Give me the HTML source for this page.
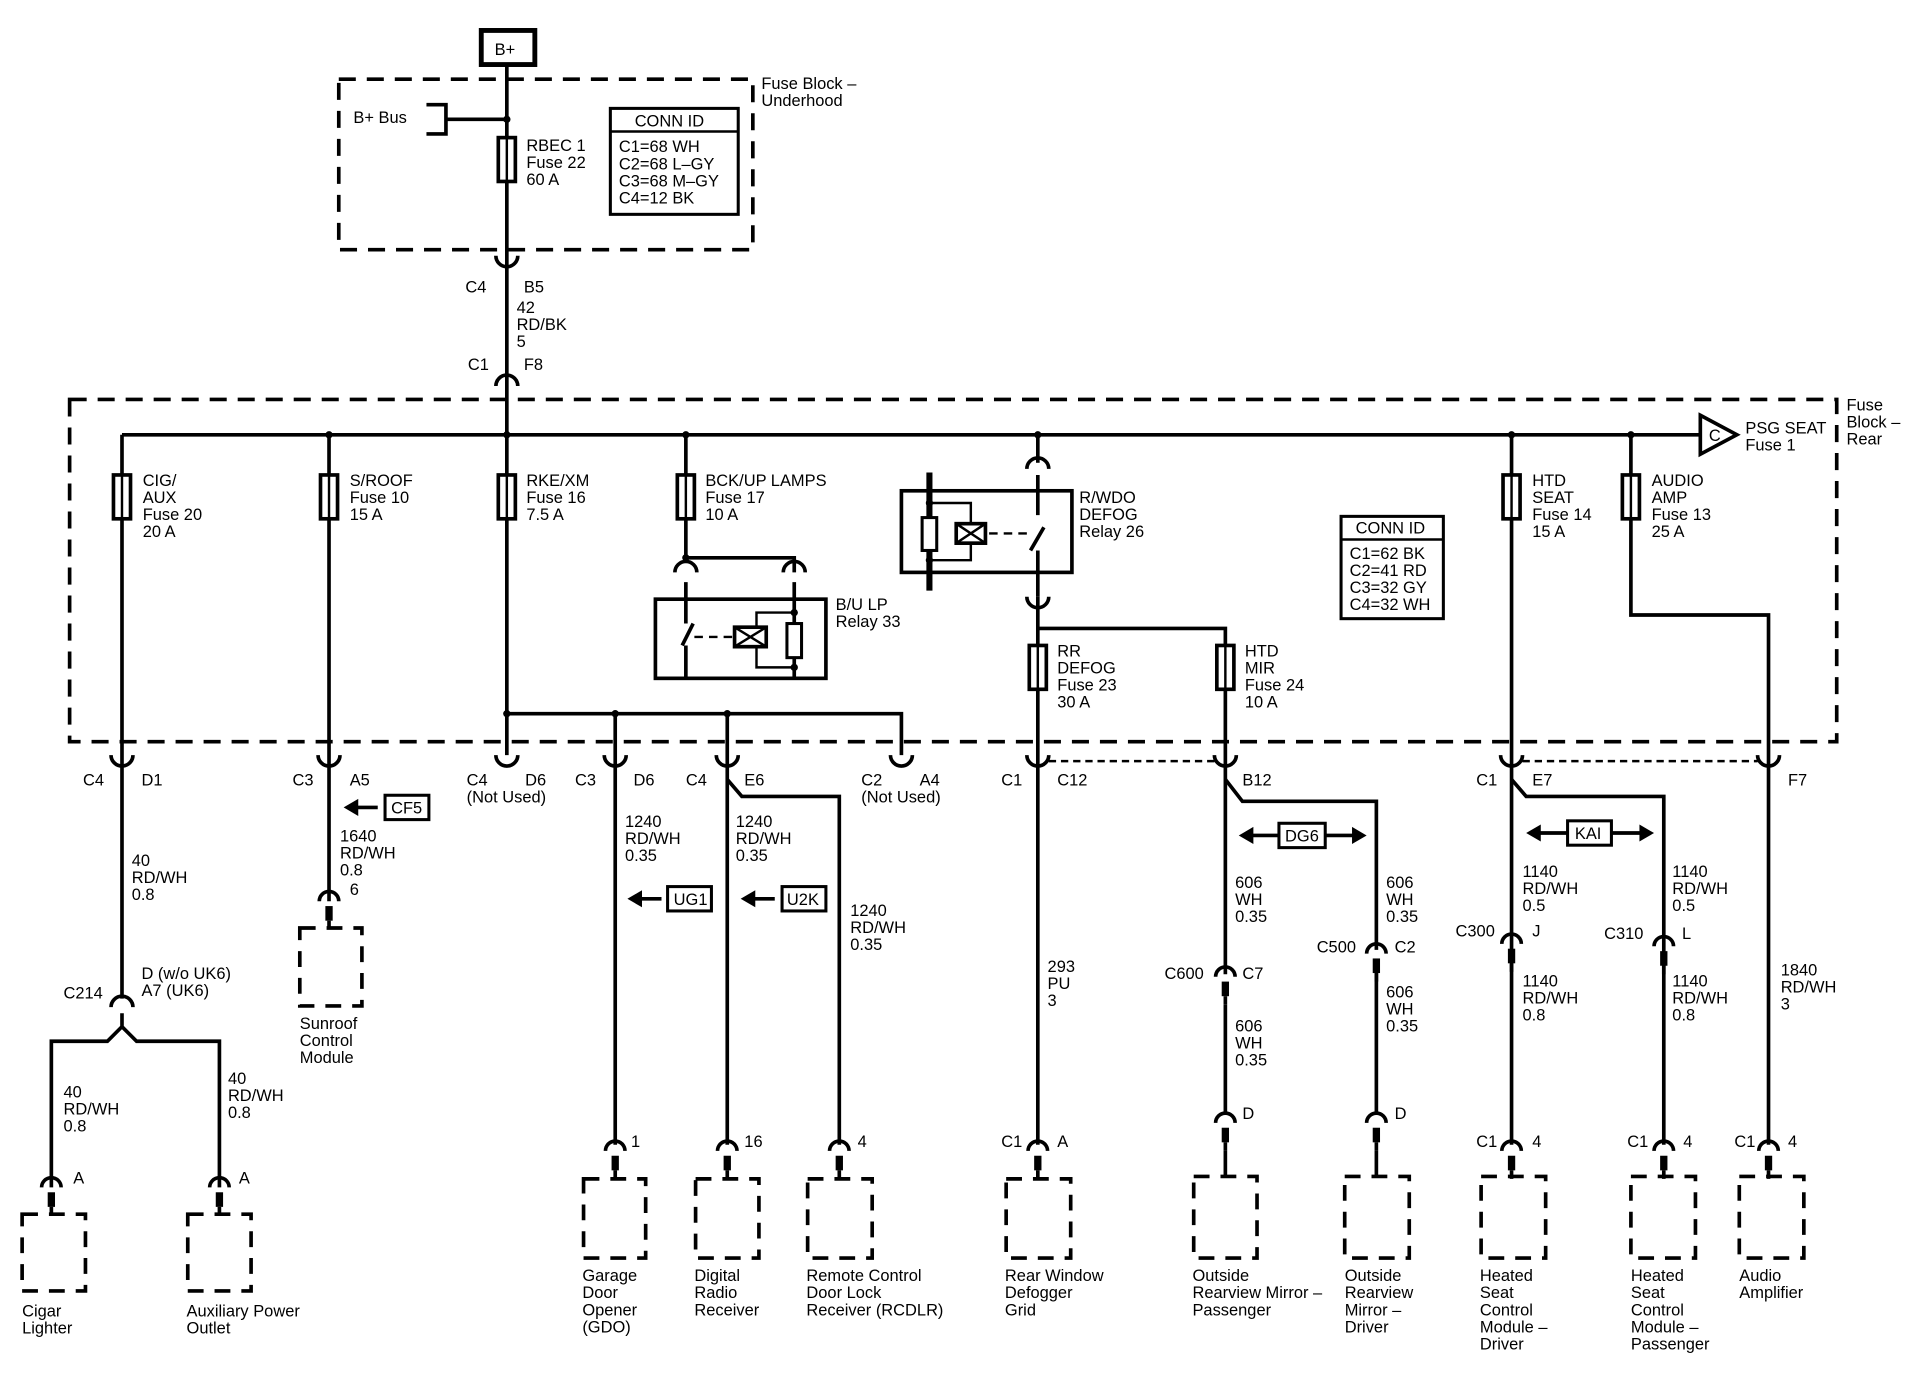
<!DOCTYPE html>
<html><head><meta charset="utf-8"><style>
html,body{margin:0;padding:0;background:#fff}
svg{display:block}
text{font-family:"Liberation Sans Narrow","Liberation Sans",sans-serif;font-size:13.5px;fill:#000}
.w{stroke:#000;stroke-width:3;fill:none}
.d{stroke:#000;stroke-width:3;fill:none;stroke-dasharray:14 9}
.dv{stroke:#000;stroke-width:3;fill:none;stroke-dasharray:13 9}
.t{stroke:#000;stroke-width:2;fill:none}
</style></head><body>
<svg width="1910" height="1392" viewBox="0 0 1568 1143" xmlns="http://www.w3.org/2000/svg">
<defs>
<g id="fuse"><rect x="-7" y="0" width="14" height="36" fill="#fff" stroke="#000" stroke-width="3"/><line x1="0" y1="0" x2="0" y2="36" stroke="#000" stroke-width="2"/></g>
<path id="cu" d="M-9,-5 A9,9 0 0 0 9,-5" class="w"/>
<path id="ca" d="M-9,5 A9,9 0 0 1 9,5" class="w"/>
<g id="stub"><path d="M-8,5 A8,8 0 0 1 8,5" class="w"/><rect x="-3" y="9" width="6" height="12" fill="#000"/><line x1="0" y1="21" x2="0" y2="28" class="w"/></g>
</defs>

<!-- top -->
<rect x="395" y="25" width="44" height="28" fill="#fff" stroke="#000" stroke-width="4"/>
<text x="406" y="45">B+</text>
<line x1="416" y1="53" x2="416" y2="356" class="w"/>
<rect x="278" y="65" width="340" height="140" class="d"/>
<text x="290" y="101">B+ Bus</text>
<path d="M350,86 H366 V110 H350 M366,98 H416" class="w"/>
<circle cx="416" cy="98" r="3"/>
<use href="#fuse" x="416" y="113"/>
<text x="432" y="124">RBEC 1</text><text x="432" y="138">Fuse 22</text><text x="432" y="152">60 A</text>
<rect x="501" y="89" width="105" height="87" fill="#fff" stroke="#000" stroke-width="2.5"/>
<line x1="501" y1="108" x2="606" y2="108" class="t"/>
<text x="521" y="104">CONN ID</text>
<text x="508" y="125">C1=68 WH</text><text x="508" y="139">C2=68 L–GY</text><text x="508" y="153">C3=68 M–GY</text><text x="508" y="167">C4=12 BK</text>
<text x="625" y="73">Fuse Block –</text><text x="625" y="87">Underhood</text>
<use href="#cu" x="416" y="215"/>
<text x="382" y="240">C4</text><text x="430" y="240">B5</text>
<text x="424" y="257">42</text><text x="424" y="271">RD/BK</text><text x="424" y="285">5</text>
<text x="384" y="304">C1</text><text x="430" y="304">F8</text>
<use href="#ca" x="416" y="312"/>

<!-- rear fuse block -->
<rect x="57" y="328" width="1451" height="281" class="d"/>
<text x="1516" y="337">Fuse</text><text x="1516" y="351">Block –</text><text x="1516" y="365">Rear</text>
<line x1="100" y1="357" x2="1396" y2="357" class="w"/>
<polygon points="1396,341 1426,357 1396,373" fill="#fff" stroke="#000" stroke-width="3"/>
<text x="1403" y="362">C</text>
<text x="1433" y="356">PSG SEAT</text><text x="1433" y="370">Fuse 1</text>
<g><circle cx="270" cy="357" r="3"/><circle cx="416" cy="357" r="3"/><circle cx="563" cy="357" r="3"/><circle cx="852" cy="357" r="3"/><circle cx="1241" cy="357" r="3"/><circle cx="1339" cy="357" r="3"/></g>

<!-- x=100 -->
<line x1="100" y1="357" x2="100" y2="820" class="w"/>
<use href="#fuse" x="100" y="390"/>
<text x="117" y="399">CIG/</text><text x="117" y="413">AUX</text><text x="117" y="427">Fuse 20</text><text x="117" y="441">20 A</text>
<!-- x=270 -->
<line x1="270" y1="357" x2="270" y2="740" class="w"/>
<use href="#fuse" x="270" y="390"/>
<text x="287" y="399">S/ROOF</text><text x="287" y="413">Fuse 10</text><text x="287" y="427">15 A</text>
<!-- x=416 -->
<line x1="416" y1="357" x2="416" y2="620" class="w"/>
<use href="#fuse" x="416" y="390"/>
<text x="432" y="399">RKE/XM</text><text x="432" y="413">Fuse 16</text><text x="432" y="427">7.5 A</text>
<path d="M416,586 H740 V620 M505,586 V940 M597,586 V940" class="w"/>
<circle cx="416" cy="586" r="3"/><circle cx="505" cy="586" r="3"/><circle cx="597" cy="586" r="3"/>
<!-- BCK/UP -->
<line x1="563" y1="357" x2="563" y2="458" class="w"/>
<use href="#fuse" x="563" y="390"/>
<text x="579" y="399">BCK/UP LAMPS</text><text x="579" y="413">Fuse 17</text><text x="579" y="427">10 A</text>
<path d="M563,458 H652 V470" class="w"/><circle cx="563" cy="458" r="3"/>
<use href="#ca" x="563" y="465"/><use href="#ca" x="652" y="465"/>
<rect x="538" y="492" width="140" height="65" fill="none" stroke="#000" stroke-width="3"/>
<path d="M563,478 V512 M569,512 L560,530 M563,530 V557 M652,478 V557" class="w"/>
<path d="M570,523 H603" class="t" stroke-dasharray="7 5"/>
<rect x="603" y="515" width="26" height="16" fill="#fff" stroke="#000" stroke-width="3"/>
<path d="M603,515 L629,531 M629,515 L603,531" class="t"/>
<path d="M621,515 V503 H652 M621,531 V548 H652" class="t"/>
<rect x="646" y="512" width="12" height="28" fill="#fff" stroke="#000" stroke-width="2.5"/>
<circle cx="652" cy="503" r="3"/><circle cx="652" cy="548" r="3"/>
<text x="686" y="501">B/U LP</text><text x="686" y="515">Relay 33</text>
<!-- R/WDO -->
<line x1="852" y1="357" x2="852" y2="380" class="w"/>
<use href="#ca" x="852" y="380"/>
<rect x="740" y="403" width="140" height="67" fill="none" stroke="#000" stroke-width="3"/>
<line x1="763" y1="388" x2="763" y2="485" stroke="#000" stroke-width="5"/>
<path d="M852,390 V423 M857,433 L846,452 M852,452 V490" class="w"/>
<path d="M812,438 H843" class="t" stroke-dasharray="7 5"/>
<path d="M763,413 H797 V460 H763" class="t"/>
<rect x="757" y="425" width="12" height="27" fill="#fff" stroke="#000" stroke-width="2.5"/>
<rect x="785" y="430" width="24" height="16" fill="#fff" stroke="#000" stroke-width="3"/>
<path d="M785,430 L809,446 M809,430 L785,446" class="t"/>
<circle cx="763" cy="413" r="3"/><circle cx="763" cy="460" r="3"/>
<text x="886" y="413">R/WDO</text><text x="886" y="427">DEFOG</text><text x="886" y="441">Relay 26</text>
<use href="#cu" x="852" y="495"/>
<path d="M852,490 V940 M852,516 H1006 V800" class="w"/>
<use href="#fuse" x="852" y="530"/><use href="#fuse" x="1006" y="530"/>
<text x="868" y="539">RR</text><text x="868" y="553">DEFOG</text><text x="868" y="567">Fuse 23</text><text x="868" y="581">30 A</text>
<text x="1022" y="539">HTD</text><text x="1022" y="553">MIR</text><text x="1022" y="567">Fuse 24</text><text x="1022" y="581">10 A</text>
<rect x="1101" y="424" width="84" height="84" fill="#fff" stroke="#000" stroke-width="2.5"/>
<line x1="1101" y1="443" x2="1185" y2="443" class="t"/>
<text x="1113" y="438">CONN ID</text>
<text x="1108" y="459">C1=62 BK</text><text x="1108" y="473">C2=41 RD</text><text x="1108" y="487">C3=32 GY</text><text x="1108" y="501">C4=32 WH</text>
<!-- HTD SEAT / AUDIO -->
<line x1="1241" y1="357" x2="1241" y2="940" class="w"/>
<use href="#fuse" x="1241" y="390"/>
<text x="1258" y="399">HTD</text><text x="1258" y="413">SEAT</text><text x="1258" y="427">Fuse 14</text><text x="1258" y="441">15 A</text>
<path d="M1339,357 V505 H1452 V940" class="w"/>
<use href="#fuse" x="1339" y="390"/>
<text x="1356" y="399">AUDIO</text><text x="1356" y="413">AMP</text><text x="1356" y="427">Fuse 13</text><text x="1356" y="441">25 A</text>

<!-- bottom connectors row -->
<g>
<use href="#cu" x="100" y="625"/><use href="#cu" x="270" y="625"/><use href="#cu" x="416" y="625"/><use href="#cu" x="505" y="625"/><use href="#cu" x="597" y="625"/><use href="#cu" x="740" y="625"/><use href="#cu" x="852" y="625"/><use href="#cu" x="1006" y="625"/><use href="#cu" x="1241" y="625"/><use href="#cu" x="1452" y="625"/>
</g>
<path d="M861,625 H997 M1250,625 H1443" class="t" stroke-dasharray="6 4"/>
<text x="68" y="645">C4</text><text x="116" y="645">D1</text>
<text x="240" y="645">C3</text><text x="287" y="645">A5</text>
<text x="383" y="645">C4</text><text x="431" y="645">D6</text><text x="383" y="659">(Not Used)</text>
<text x="472" y="645">C3</text><text x="520" y="645">D6</text>
<text x="563" y="645">C4</text><text x="611" y="645">E6</text>
<text x="707" y="645">C2</text><text x="755" y="645">A4</text><text x="707" y="659">(Not Used)</text>
<text x="822" y="645">C1</text><text x="868" y="645">C12</text>
<text x="1020" y="645">B12</text>
<text x="1212" y="645">C1</text><text x="1258" y="645">E7</text>
<text x="1468" y="645">F7</text>

<!-- x=100 bottom -->
<text x="108" y="711">40</text><text x="108" y="725">RD/WH</text><text x="108" y="739">0.8</text>
<use href="#ca" x="100" y="822"/>
<text x="52" y="820">C214</text><text x="116" y="804">D (w/o UK6)</text><text x="116" y="818">A7 (UK6)</text>
<path d="M100,832 V843 L88,855 H42 V975 M100,843 L112,855 H180 V975" class="w"/>
<text x="52" y="901">40</text><text x="52" y="915">RD/WH</text><text x="52" y="929">0.8</text>
<text x="187" y="890">40</text><text x="187" y="904">RD/WH</text><text x="187" y="918">0.8</text>
<use href="#stub" x="42" y="970"/><use href="#stub" x="180" y="970"/>
<text x="60" y="972">A</text><text x="196" y="972">A</text>
<rect x="18" y="997" width="52" height="63" class="dv"/>
<rect x="154" y="997" width="52" height="63" class="dv"/>
<text x="18" y="1081">Cigar</text><text x="18" y="1095">Lighter</text>
<text x="153" y="1081">Auxiliary Power</text><text x="153" y="1095">Outlet</text>

<!-- sunroof -->
<path d="M310,663 H290" class="w"/><polygon points="282,663 294,656 294,670"/>
<rect x="316" y="653" width="36" height="20" fill="#fff" stroke="#000" stroke-width="2.5"/><text x="321" y="668">CF5</text>
<text x="279" y="691">1640</text><text x="279" y="705">RD/WH</text><text x="279" y="719">0.8</text><text x="287" y="735">6</text>
<use href="#stub" x="270" y="735"/>
<rect x="246" y="762" width="51" height="64" class="dv"/>
<text x="246" y="845">Sunroof</text><text x="246" y="859">Control</text><text x="246" y="873">Module</text>

<!-- GDO / Radio / RCDLR -->
<path d="M543,738 H523" class="w"/><polygon points="515,738 527,731 527,745"/>
<rect x="548" y="728" width="36" height="20" fill="#fff" stroke="#000" stroke-width="2.5"/><text x="553" y="743">UG1</text>
<path d="M636,738 H616" class="w"/><polygon points="608,738 620,731 620,745"/>
<rect x="642" y="728" width="36" height="20" fill="#fff" stroke="#000" stroke-width="2.5"/><text x="646" y="743">U2K</text>
<text x="513" y="679">1240</text><text x="513" y="693">RD/WH</text><text x="513" y="707">0.35</text>
<text x="604" y="679">1240</text><text x="604" y="693">RD/WH</text><text x="604" y="707">0.35</text>
<path d="M597,640 L609,654 H689 V940" class="w"/>
<text x="698" y="752">1240</text><text x="698" y="766">RD/WH</text><text x="698" y="780">0.35</text>
<text x="518" y="942">1</text><text x="611" y="942">16</text><text x="704" y="942">4</text>
<use href="#stub" x="505" y="940"/><use href="#stub" x="597" y="940"/><use href="#stub" x="689" y="940"/>
<rect x="479" y="968" width="51" height="65" class="dv"/>
<rect x="571" y="968" width="52" height="65" class="dv"/>
<rect x="663" y="968" width="53" height="65" class="dv"/>
<text x="478" y="1052">Garage</text><text x="478" y="1066">Door</text><text x="478" y="1080">Opener</text><text x="478" y="1094">(GDO)</text>
<text x="570" y="1052">Digital</text><text x="570" y="1066">Radio</text><text x="570" y="1080">Receiver</text>
<text x="662" y="1052">Remote Control</text><text x="662" y="1066">Door Lock</text><text x="662" y="1080">Receiver (RCDLR)</text>

<!-- rear defog -->
<text x="860" y="798">293</text><text x="860" y="812">PU</text><text x="860" y="826">3</text>
<text x="822" y="942">C1</text><text x="868" y="942">A</text>
<use href="#stub" x="852" y="940"/>
<rect x="826" y="968" width="53" height="65" class="dv"/>
<text x="825" y="1052">Rear Window</text><text x="825" y="1066">Defogger</text><text x="825" y="1080">Grid</text>

<!-- mirrors -->
<path d="M1006,640 L1020,658 H1130 V780 M1130,795 V915" class="w"/>
<path d="M1025,686 H1113" class="w"/><polygon points="1017,686 1029,679 1029,693"/><polygon points="1122,686 1110,679 1110,693"/>
<rect x="1050" y="676" width="38" height="20" fill="#fff" stroke="#000" stroke-width="2.5"/><text x="1055" y="691">DG6</text>
<text x="1014" y="729">606</text><text x="1014" y="743">WH</text><text x="1014" y="757">0.35</text>
<text x="1138" y="729">606</text><text x="1138" y="743">WH</text><text x="1138" y="757">0.35</text>
<use href="#stub" x="1006" y="797"/>
<line x1="1006" y1="825" x2="1006" y2="915" class="w"/>
<text x="956" y="804">C600</text><text x="1020" y="804">C7</text>
<text x="1014" y="847">606</text><text x="1014" y="861">WH</text><text x="1014" y="875">0.35</text>
<use href="#stub" x="1130" y="778"/>
<text x="1081" y="782">C500</text><text x="1145" y="782">C2</text>
<text x="1138" y="819">606</text><text x="1138" y="833">WH</text><text x="1138" y="847">0.35</text>
<use href="#stub" x="1006" y="917"/><use href="#stub" x="1130" y="917"/>
<line x1="1006" y1="945" x2="1006" y2="966" class="w"/><line x1="1130" y1="945" x2="1130" y2="966" class="w"/>
<text x="1020" y="919">D</text><text x="1145" y="919">D</text>
<rect x="980" y="966" width="52" height="67" class="dv"/>
<rect x="1104" y="966" width="53" height="67" class="dv"/>
<text x="979" y="1052">Outside</text><text x="979" y="1066">Rearview Mirror –</text><text x="979" y="1080">Passenger</text>
<text x="1104" y="1052">Outside</text><text x="1104" y="1066">Rearview</text><text x="1104" y="1080">Mirror –</text><text x="1104" y="1094">Driver</text>

<!-- heated seats -->
<path d="M1241,640 L1253,654 H1366 V940" class="w"/>
<path d="M1261,684 H1349" class="w"/><polygon points="1253,684 1265,677 1265,691"/><polygon points="1358,684 1346,677 1346,691"/>
<rect x="1287" y="674" width="36" height="20" fill="#fff" stroke="#000" stroke-width="2.5"/><text x="1293" y="689">KAI</text>
<text x="1250" y="720">1140</text><text x="1250" y="734">RD/WH</text><text x="1250" y="748">0.5</text>
<text x="1373" y="720">1140</text><text x="1373" y="734">RD/WH</text><text x="1373" y="748">0.5</text>
<use href="#stub" x="1241" y="770"/><use href="#stub" x="1366" y="772"/>
<text x="1195" y="769">C300</text><text x="1258" y="769">J</text>
<text x="1317" y="771">C310</text><text x="1381" y="771">L</text>
<text x="1250" y="810">1140</text><text x="1250" y="824">RD/WH</text><text x="1250" y="838">0.8</text>
<text x="1373" y="810">1140</text><text x="1373" y="824">RD/WH</text><text x="1373" y="838">0.8</text>
<text x="1462" y="801">1840</text><text x="1462" y="815">RD/WH</text><text x="1462" y="829">3</text>
<text x="1212" y="942">C1</text><text x="1258" y="942">4</text>
<text x="1336" y="942">C1</text><text x="1382" y="942">4</text>
<text x="1424" y="942">C1</text><text x="1468" y="942">4</text>
<use href="#stub" x="1241" y="940"/><use href="#stub" x="1366" y="940"/><use href="#stub" x="1452" y="940"/>
<rect x="1216" y="966" width="53" height="67" class="dv"/>
<rect x="1339" y="966" width="53" height="67" class="dv"/>
<rect x="1428" y="966" width="53" height="67" class="dv"/>
<text x="1215" y="1052">Heated</text><text x="1215" y="1066">Seat</text><text x="1215" y="1080">Control</text><text x="1215" y="1094">Module –</text><text x="1215" y="1108">Driver</text>
<text x="1339" y="1052">Heated</text><text x="1339" y="1066">Seat</text><text x="1339" y="1080">Control</text><text x="1339" y="1094">Module –</text><text x="1339" y="1108">Passenger</text>
<text x="1428" y="1052">Audio</text><text x="1428" y="1066">Amplifier</text>
</svg>
</body></html>
